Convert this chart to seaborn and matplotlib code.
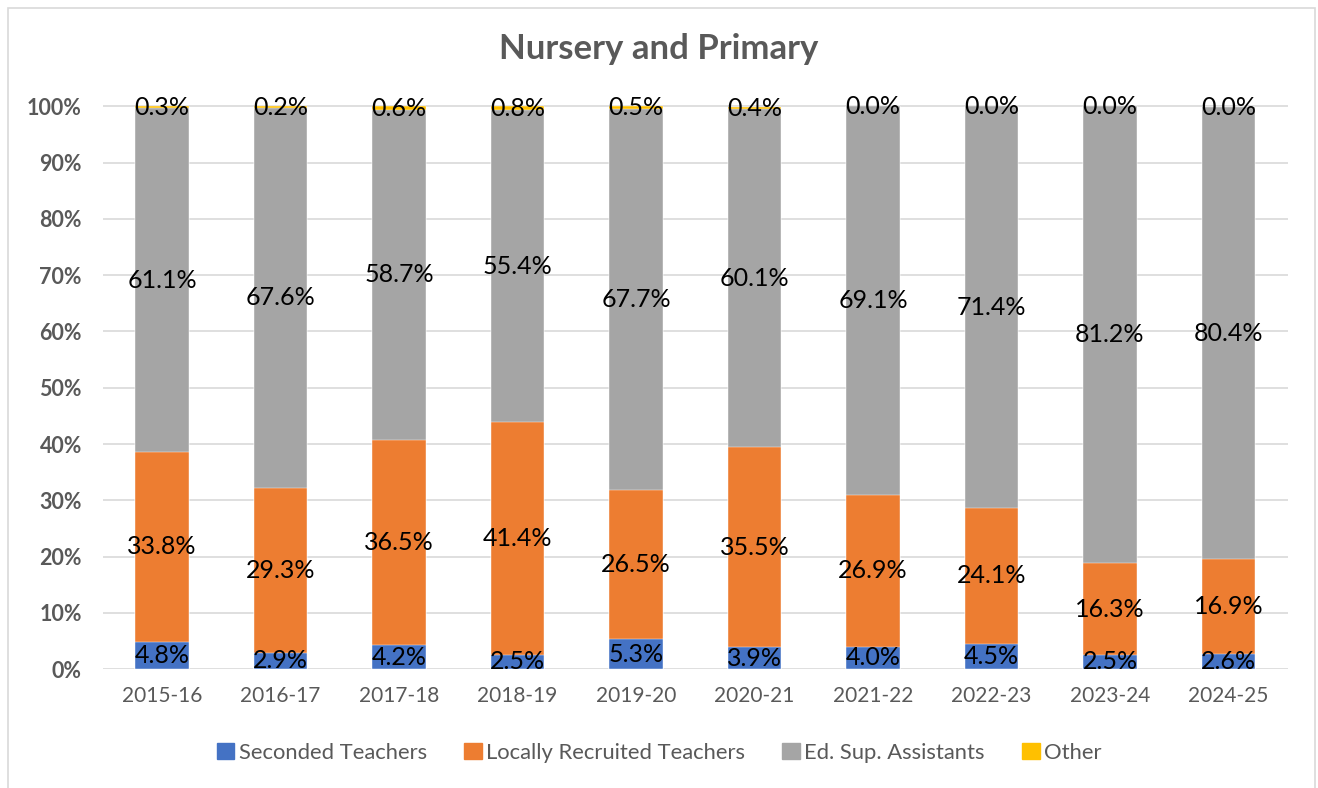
import pandas as pd
import numpy as np
import matplotlib.pyplot as plt
import seaborn as sns
from matplotlib.patches import Patch, Rectangle

years = ["2015-16", "2016-17", "2017-18", "2018-19", "2019-20",
         "2020-21", "2021-22", "2022-23", "2023-24", "2024-25"]
seconded = [4.8, 2.9, 4.2, 2.5, 5.3, 3.9, 4.0, 4.5, 2.5, 2.6]
locally = [33.8, 29.3, 36.5, 41.4, 26.5, 35.5, 26.9, 24.1, 16.3, 16.9]
edsup = [61.1, 67.6, 58.7, 55.4, 67.7, 60.1, 69.1, 71.4, 81.2, 80.4]
other = [0.3, 0.2, 0.6, 0.8, 0.5, 0.4, 0.0, 0.0, 0.04, 0.0]

series_names = ["Seconded Teachers", "Locally Recruited Teachers", "Ed. Sup. Assistants", "Other"]
colors = ["#4472C4", "#ED7D31", "#A5A5A5", "#FFC000"]

df = pd.DataFrame({"Year": years, "Seconded": seconded, "Locally": locally,
                   "EdSup": edsup, "Other": other})
# cumulative tops for overlay stacking
df["c1"] = df["Seconded"]
df["c2"] = df["c1"] + df["Locally"]
df["c3"] = df["c2"] + df["EdSup"]
df["c4"] = df["c3"] + df["Other"]

sns.set_theme(style="white")
plt.rcParams["font.family"] = ["Lato", "DejaVu Sans"]

fig = plt.figure(figsize=(13.18, 7.88), dpi=100)
ax = fig.add_axes([0.078, 0.151, 0.899, 0.716])

for col, c in zip(["c4", "c3", "c2", "c1"], colors[::-1]):
    sns.barplot(data=df, x="Year", y=col, color=c, width=0.45, ax=ax,
                edgecolor="white", linewidth=0.3, saturation=1, zorder=2)

# data labels centred in each segment
bottoms = np.zeros(len(years))
for vals in [seconded, locally, edsup, other]:
    for i, v in enumerate(vals):
        ax.text(i, bottoms[i] + v / 2, f"{v:.1f}%", ha="center", va="center",
                fontsize=18, color="black", zorder=5)
    bottoms = bottoms + np.array(vals)

ax.set_ylim(0, 100.3)
ax.set_xlim(-0.5, len(years) - 0.5)
ax.set_yticks(range(0, 101, 10))
ax.set_yticklabels([f"{t}%" for t in range(0, 101, 10)], fontsize=15.5,
                   fontweight="bold", color="#595959")
ax.tick_params(axis="x", labelsize=15, labelcolor="#595959", length=0, pad=12)
ax.tick_params(axis="y", length=0, pad=15)
ax.yaxis.grid(True, color="#D9D9D9", linewidth=1.2, zorder=0)
ax.set_axisbelow(True)
for s in ax.spines.values():
    s.set_visible(False)
ax.set_xlabel("")
ax.set_ylabel("")

fig.suptitle("Nursery and Primary", x=0.5, y=0.958, fontsize=25,
             fontweight="bold", color="#595959")

handles = [Patch(facecolor=c, edgecolor=c) for c in colors]
fig.legend(handles, series_names, loc="center", bbox_to_anchor=(0.5, 0.045),
           ncol=4, frameon=False, fontsize=15.8, labelcolor="#595959",
           handlelength=0.8, handleheight=0.8, handletextpad=0.2, columnspacing=1.7)

fig.add_artist(Rectangle((0.006, -0.01), 0.992, 1.0, transform=fig.transFigure,
                         fill=False, edgecolor="#D9D9D9", linewidth=1.2))

fig.savefig("out.png", dpi=100)
